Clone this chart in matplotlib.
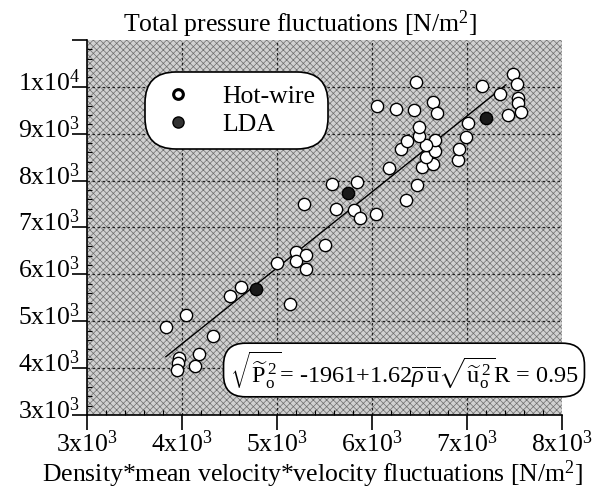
import matplotlib
matplotlib.use("Agg")
import matplotlib.pyplot as plt
import matplotlib.transforms as mtransforms
from matplotlib.ticker import MultipleLocator, FixedLocator
from matplotlib.lines import Line2D

plt.rcParams['font.family'] = ['Liberation Serif', 'DejaVu Serif']
plt.rcParams['mathtext.fontset'] = 'custom'
plt.rcParams['mathtext.rm'] = 'Liberation Serif'
plt.rcParams['mathtext.it'] = 'Liberation Serif:italic'
plt.rcParams['mathtext.bf'] = 'Liberation Serif:bold'
plt.rcParams['hatch.linewidth'] = 0.5

# ---------------- data ----------------
hotwire_x = [3833, 4044, 4322, 3970, 3953, 3946, 4175, 4139, 4508, 4625,
             5001, 5134, 5205, 5300, 5200, 5310, 5503, 5285, 5580, 5845,
             5620, 5806, 5876, 6042, 6175, 6354, 6477, 6529, 6645, 6565,
             6660, 6660, 6565, 6302, 6370, 6490, 6495, 6055, 6250, 6445,
             6640, 6680, 6460, 6910, 6920, 6990, 7008, 7163, 7343, 7480,
             7525, 7532, 7539, 7567, 7427]
hotwire_y = [4883, 5132, 4684, 4216, 4115, 3960, 4294, 4051, 5537, 5736,
             6247, 5367, 6482, 6411, 6295, 6107, 6625, 7499, 7925, 7974,
             7395, 7365, 7205, 7293, 8270, 7577, 7910, 8281, 8362, 8508,
             8636, 8860, 8757, 8664, 8849, 8962, 9150, 9590, 9520, 9510,
             9680, 9432, 10107, 8450, 8685, 8925, 9225, 10020, 9858, 10285,
             10058, 9770, 9646, 9467, 9394]
lda_x = [4779, 5750, 7204]
lda_y = [5680, 7745, 9326]

fit_intercept = -1961
fit_slope = 1.62
fit_x = [3830, 7410]
fit_y = [fit_intercept + fit_slope * v for v in fit_x]

x_ticks = [3000, 4000, 5000, 6000, 7000, 8000]
x_ticklabels = [r'$\mathrm{3x10^{3}}$', r'$\mathrm{4x10^{3}}$', r'$\mathrm{5x10^{3}}$',
                r'$\mathrm{6x10^{3}}$', r'$\mathrm{7x10^{3}}$', r'$\mathrm{8x10^{3}}$']
y_ticks = [3000, 4000, 5000, 6000, 7000, 8000, 9000, 10000, 11000]
y_ticklabels = [r'$\mathrm{3x10^{3}}$', r'$\mathrm{4x10^{3}}$', r'$\mathrm{5x10^{3}}$',
                r'$\mathrm{6x10^{3}}$', r'$\mathrm{7x10^{3}}$', r'$\mathrm{8x10^{3}}$',
                r'$\mathrm{9x10^{3}}$', r'$\mathrm{1x10^{4}}$', '']

title = r'Total pressure fluctuations [N/m$^{2}$]'
xlabel = r'Density*mean velocity*velocity fluctuations [N/m$^{2}$]'
equation = (r'$\sqrt{\widetilde{\mathrm{P}}_{\mathrm{o}}^{\,2}}$= -1961+1.62'
            r'$\overline{\rho}\,\overline{\mathrm{u}}\sqrt{\widetilde{\mathrm{u}}_{\mathrm{o}}^{\,2}}$'
            r'R = 0.95')

# ---------------- figure ----------------
W, H = 594, 496
fig = plt.figure(figsize=(W / 100, H / 100), dpi=100)
ax = fig.add_axes([87 / W, (H - 415) / H, 475 / W, 375 / H])

ax.set_xlim(3000, 8000)
ax.set_ylim(3000, 11000)

# stippled background
ax.set_facecolor('#d0d0d0')
ax.add_patch(plt.Rectangle((0, 0), 1, 1, transform=ax.transAxes, facecolor='none',
                           edgecolor='#6e6e6e', hatch='xxxxx', lw=0, zorder=0.5))

for s in ['top', 'right']:
    ax.spines[s].set_visible(False)
for s in ['left', 'bottom']:
    ax.spines[s].set_linewidth(1.2)

ax.xaxis.set_major_locator(FixedLocator(x_ticks))
ax.yaxis.set_major_locator(FixedLocator(y_ticks))
ax.xaxis.set_minor_locator(MultipleLocator(200))
ax.yaxis.set_minor_locator(MultipleLocator(200))
ax.set_xticklabels(x_ticklabels)
ax.set_yticklabels(y_ticklabels)
ax.tick_params(which='major', direction='out', length=11, width=1.2, labelsize=18.5)
ax.tick_params(axis='y', which='major', pad=-6)
ax.tick_params(axis='x', which='major', pad=0)
ax.tick_params(which='minor', direction='in', length=3.5, width=0.8)
off = mtransforms.ScaledTranslation(0, 5 / 72, fig.dpi_scale_trans)
for lab in ax.get_yticklabels():
    lab.set_transform(lab.get_transform() + off)

for v in x_ticks[1:-1]:
    ax.axvline(v, color='#222222', lw=0.9, ls=(0, (2, 2)), zorder=1)
for v in y_ticks[1:-1]:
    ax.axhline(v, color='#222222', lw=0.9, ls=(0, (2, 2)), zorder=1)

ax.plot(fit_x, fit_y, color='black', lw=1.0, zorder=2)
ax.scatter(hotwire_x, hotwire_y, s=78, facecolor='white', edgecolor='black',
           linewidth=1.0, zorder=3)
ax.scatter(lda_x, lda_y, s=78, facecolor='#1a1a1a', edgecolor='black',
           linewidth=1.0, zorder=4)

fig.text(300 / W, 1 - 24 / H, title, ha='center', va='center', fontsize=18.5)
fig.text(313 / W, 1 - 474 / H, xlabel, ha='center', va='center', fontsize=18.5)

handles = [Line2D([], [], ls='none', marker='o', ms=7, mfc='white', mec='black', mew=2.2),
           Line2D([], [], ls='none', marker='o', ms=8, mfc='#333333', mec='black', mew=1)]
leg = fig.legend(handles, ['Hot-wire', 'LDA'], loc='upper left',
                 bbox_to_anchor=(145 / W, 1 - 72 / H), fontsize=18.5, frameon=True,
                 fancybox=True, borderpad=0.5, handletextpad=0.9, labelspacing=0.2,
                 handlelength=1.6, borderaxespad=0)
fr = leg.get_frame()
fr.set_boxstyle('round,pad=0,rounding_size=1.2')
fr.set_edgecolor('black')
fr.set_linewidth(1.2)
fr.set_facecolor('white')
fr.set_alpha(1)

fig.text(404 / W, 1 - 370 / H, equation, ha='center', va='center', fontsize=17.5,
         bbox=dict(boxstyle='round,pad=0.25,rounding_size=0.9', facecolor='white',
                   edgecolor='black', linewidth=1.2))

fig.savefig('out.png', dpi=100)
